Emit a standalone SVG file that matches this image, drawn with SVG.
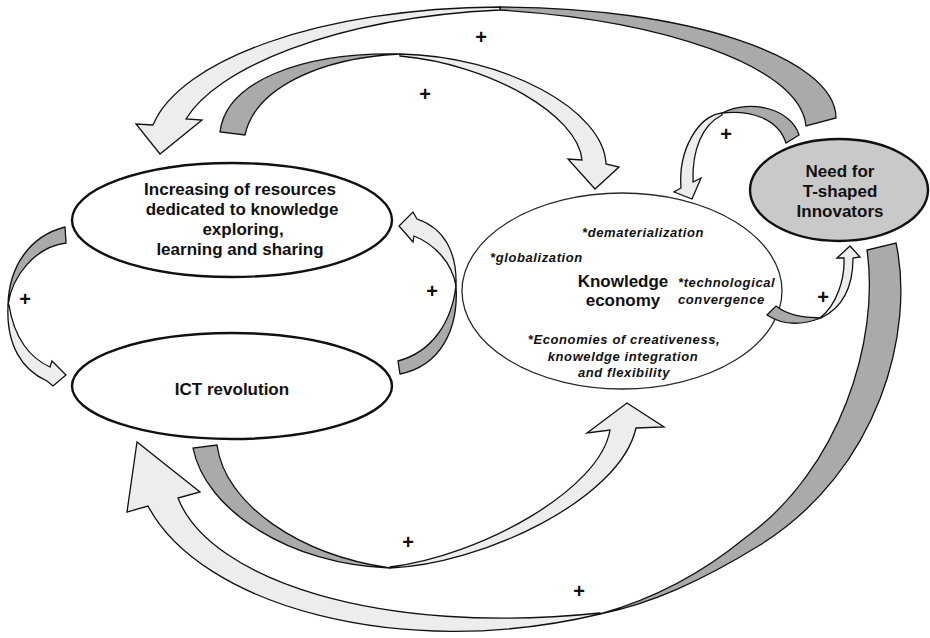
<svg xmlns="http://www.w3.org/2000/svg" width="930" height="638" viewBox="0 0 930 638">
  <style>
    .bg { fill: #ffffff; }
    .node { fill: #ffffff; stroke: #111111; stroke-width: 2.4; }
    .node-thin { fill: #ffffff; stroke: #2a2a2a; stroke-width: 1.3; }
    .node-grey { fill: #c9c9c9; stroke: #111111; stroke-width: 2.4; }
    .label { font-family: "Liberation Sans", Arial, sans-serif; font-weight: bold; font-size: 17px; fill: #111111; text-anchor: middle; }
    .note { font-family: "Liberation Sans", Arial, sans-serif; font-weight: bold; font-style: italic; font-size: 13px; letter-spacing: 0.6px; fill: #111111; }
    .back { fill: #aaaaaa; stroke: #111111; stroke-width: 1.3; stroke-linejoin: miter; }
    .front { fill: #ededed; stroke: #111111; stroke-width: 1.3; stroke-linejoin: miter; }
    .plus { font-family: "Liberation Sans", Arial, sans-serif; font-weight: bold; font-size: 20px; fill: #111111; text-anchor: middle; }
  </style>

  <rect class="bg" x="0" y="0" width="930" height="638"/>

  <!-- nodes -->
  <g id="n-resources">
    <ellipse class="node" cx="232" cy="220" rx="160" ry="57"/>
    <text class="label" x="240" y="195">Increasing of resources</text>
    <text class="label" x="242" y="215">dedicated to knowledge</text>
    <text class="label" x="243" y="235">exploring,</text>
    <text class="label" x="240" y="255">learning and sharing</text>
  </g>

  <g id="n-ict">
    <ellipse class="node" cx="232" cy="386" rx="160" ry="53"/>
    <text class="label" x="232" y="395">ICT revolution</text>
  </g>

  <g id="n-knowledge">
    <ellipse class="node-thin" cx="622" cy="291" rx="160" ry="98"/>
    <text class="note" x="582" y="237">*dematerialization</text>
    <text class="note" x="490" y="262">*globalization</text>
    <text class="label" x="623" y="287">Knowledge</text>
    <text class="label" x="623" y="306">economy</text>
    <text class="note" x="678" y="287">*technological</text>
    <text class="note" x="678" y="304">convergence</text>
    <text class="note" x="624" y="344" text-anchor="middle">*Economies of creativeness,</text>
    <text class="note" x="623" y="361" text-anchor="middle">knoweldge integration</text>
    <text class="note" x="624" y="377" text-anchor="middle">and flexibility</text>
  </g>

  <g id="n-need">
    <ellipse class="node-grey" cx="839" cy="190" rx="89" ry="51"/>
    <text class="label" x="840" y="177">Need for</text>
    <text class="label" x="840" y="197">T-shaped</text>
    <text class="label" x="840" y="217">Innovators</text>
  </g>

  <!-- curved feedback arrows: darker back face at the tail, light face up to the head -->
  <g id="connectors">
    <!-- Need for T-shaped Innovators -> Increasing of resources -->
    <g id="c-need-resources">
      <path class="back" d="M500,7 C685,7 836,57 836,118 L806,126 C800,65 660,20 500,10 Z"/>
      <path class="front" d="M500,7 C320,8 180,60 153,125 L136,124 L160,154 L202,120 L186,119 C215,70 330,18 500,10 Z"/>
    </g>

    <!-- Increasing of resources -> Knowledge economy -->
    <g id="c-resources-knowledge">
      <path class="back" d="M220,132 C226,82 300,52 400,54 C320,58 255,88 245,135 Z"/>
      <path class="front" d="M400,54 C505,56 604,110 606,164 L619,167 L595,189 L568,159 L582,160 C578,115 490,64 400,56 Z"/>
    </g>

    <!-- Need for T-shaped Innovators -> Knowledge economy -->
    <g id="c-need-knowledge">
      <path class="back" d="M799,135 C792,110 752,98 722,113 C750,110 778,118 786,143 Z"/>
      <path class="front" d="M722,113 C698,116 678,150 681,188 L674,192 L692,199 L701,178 L693,182 C692,150 702,125 722,115 Z"/>
    </g>

    <!-- Knowledge economy -> Need for T-shaped Innovators -->
    <g id="c-knowledge-need">
      <path class="back" d="M767,315 C785,327 805,324 821,318 C806,317 790,317 776,306 Z"/>
      <path class="front" d="M821,318 C846,306 853,282 853,258 L860,257 L850,246 L837,258 L844,258 C845,280 836,305 821,317 Z"/>
    </g>

    <!-- Increasing of resources -> ICT revolution -->
    <g id="c-resources-ict">
      <path class="back" d="M65,227 C30,236 9,266 8,305 C12,276 35,247 66,243 Z"/>
      <path class="front" d="M8,305 C6,345 22,370 47,381 L53,386 L66,375 L52,361 L50,367 C30,358 14,338 9,305 Z"/>
    </g>

    <!-- ICT revolution -> Increasing of resources -->
    <g id="c-ict-resources">
      <path class="back" d="M400,374 C440,366 459,330 456,285 C452,322 432,352 398,361 Z"/>
      <path class="front" d="M456,285 C457,252 444,228 417,219 L413,212 L399,226 L413,242 L414,236 C434,244 452,262 456,286 Z"/>
    </g>

    <!-- ICT revolution -> Knowledge economy -->
    <g id="c-ict-knowledge">
      <path class="back" d="M193,448 C205,510 290,565 390,568 C300,555 225,505 217,445 Z"/>
      <path class="front" d="M390,568 C480,565 620,500 636,428 L664,427 L627,403 L587,433 L610,430 C600,490 480,556 390,567 Z"/>
    </g>

    <!-- Need for T-shaped Innovators -> ICT revolution -->
    <g id="c-need-ict">
      <path class="back" d="M896,243 C915,330 880,470 760,545 C700,582 650,604 600,614 C650,600 700,575 745,538 C840,470 880,340 867,250 Z"/>
      <path class="front" d="M600,614 C400,662 200,605 148,506 L127,512 L137,442 L200,492 L178,498 C210,580 380,636 600,613 Z"/>
    </g>

    <!-- polarity labels -->
    <text class="plus" x="481" y="44">+</text>
    <text class="plus" x="425" y="101">+</text>
    <text class="plus" x="726" y="141">+</text>
    <text class="plus" x="25" y="306">+</text>
    <text class="plus" x="432" y="298">+</text>
    <text class="plus" x="823" y="304">+</text>
    <text class="plus" x="408" y="549">+</text>
    <text class="plus" x="579" y="598">+</text>
  </g>
</svg>
